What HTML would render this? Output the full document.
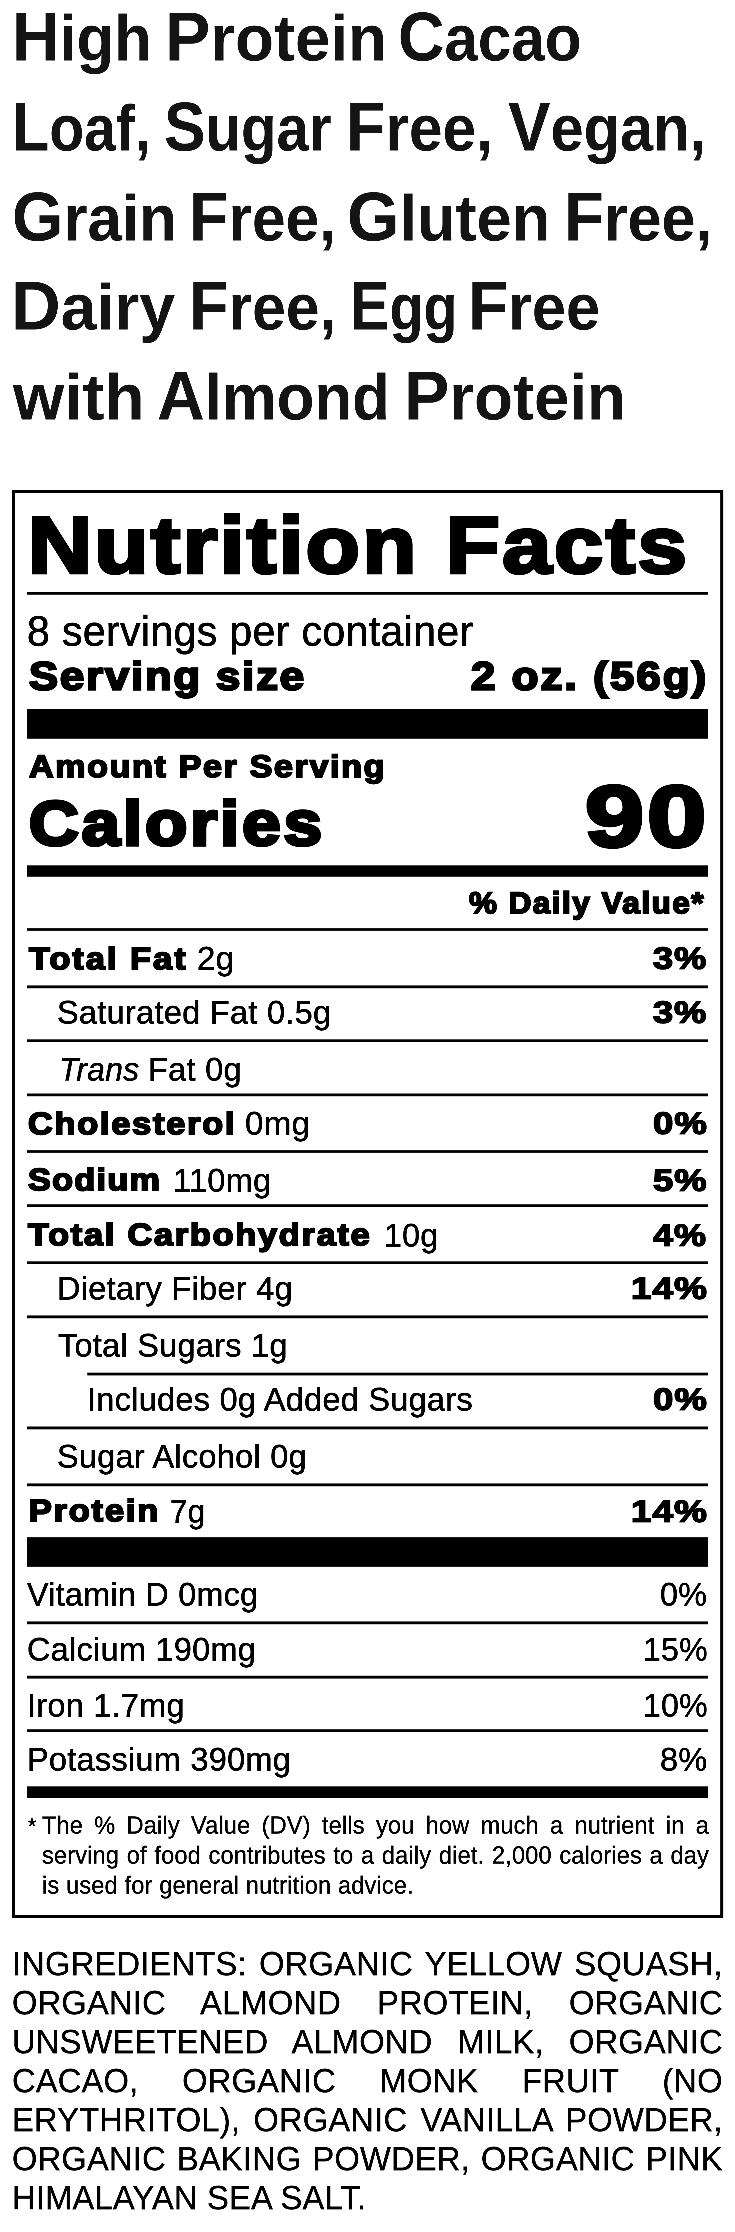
<!DOCTYPE html>
<html lang="en"><head><meta charset="utf-8"><title>Nutrition Facts</title>
<style>
html,body{margin:0;padding:0;background:#fff;}
body{width:735px;height:2232px;position:relative;overflow:hidden;font-family:"Liberation Sans",sans-serif;color:#000;}
.t{position:absolute;white-space:nowrap;line-height:1;transform-origin:0 0;will-change:transform;}
.j{position:absolute;white-space:nowrap;text-align:justify;text-align-last:justify;transform-origin:0 0;will-change:transform;}
.j.last{text-align:left;text-align-last:left;}
.lc{font-size:93.5%;}
</style></head><body>
<svg width="735" height="2232" viewBox="0 0 735 2232" style="position:absolute;left:0;top:0" shape-rendering="geometricPrecision"><path fill="#000" fill-rule="evenodd" d="M12.0 490.0H723.1V1918.1H12.0Z M15.0 493.0V1915.1H720.1V493.0Z"/><rect x="27" y="592.0" width="681.00" height="2.80" fill="#000"/><rect x="27" y="709.0" width="681.00" height="29.80" fill="#000"/><rect x="27" y="865.3" width="681.00" height="11.50" fill="#000"/><rect x="27" y="928.1" width="681.00" height="2.80" fill="#000"/><rect x="27" y="985.4" width="681.00" height="2.80" fill="#000"/><rect x="27" y="1039.3" width="681.00" height="2.70" fill="#000"/><rect x="27" y="1093.5" width="681.00" height="2.70" fill="#000"/><rect x="27" y="1150.1" width="681.00" height="2.80" fill="#000"/><rect x="27" y="1204.2" width="681.00" height="2.80" fill="#000"/><rect x="27" y="1261.3" width="681.00" height="2.70" fill="#000"/><rect x="27" y="1315.4" width="681.00" height="2.80" fill="#000"/><rect x="87.2" y="1372.7" width="620.80" height="2.70" fill="#000"/><rect x="27" y="1426.5" width="681.00" height="2.80" fill="#000"/><rect x="27" y="1483.4" width="681.00" height="2.80" fill="#000"/><rect x="27" y="1537.1" width="681.00" height="29.80" fill="#000"/><rect x="27" y="1621.4" width="681.00" height="2.80" fill="#000"/><rect x="27" y="1675.8" width="681.00" height="2.80" fill="#000"/><rect x="27" y="1729.2" width="681.00" height="2.80" fill="#000"/><rect x="27" y="1786.3" width="681.00" height="11.70" fill="#000"/></svg>
<div class="t" id="h00" style="left:12.30px;top:2.12px;font-size:277.20px;font-weight:700;color:#141414;transform:scale(0.23717,0.25)">H<span class="lc">igh</span></div>
<div class="t" id="h01" style="left:165.13px;top:2.12px;font-size:277.20px;font-weight:700;color:#141414;transform:scale(0.24518,0.25)">P<span class="lc">rotein</span></div>
<div class="t" id="h02" style="left:398.22px;top:2.12px;font-size:277.20px;font-weight:700;color:#141414;transform:scale(0.23195,0.25)">C<span class="lc">acao</span></div>
<div class="t" id="h10" style="left:11.88px;top:92.12px;font-size:277.20px;font-weight:700;color:#141414;transform:scale(0.22020,0.25)">L<span class="lc">oaf,</span></div>
<div class="t" id="h11" style="left:163.64px;top:92.12px;font-size:277.20px;font-weight:700;color:#141414;transform:scale(0.22435,0.25)">S<span class="lc">ugar</span></div>
<div class="t" id="h12" style="left:345.96px;top:92.12px;font-size:277.20px;font-weight:700;color:#141414;transform:scale(0.23300,0.25)">F<span class="lc">ree,</span></div>
<div class="t" id="h13" style="left:507.54px;top:92.12px;font-size:277.20px;font-weight:700;color:#141414;transform:scale(0.22980,0.25)">V<span class="lc">egan,</span></div>
<div class="t" id="h20" style="left:11.96px;top:181.52px;font-size:277.20px;font-weight:700;color:#141414;transform:scale(0.23855,0.25)">G<span class="lc">rain</span></div>
<div class="t" id="h21" style="left:188.60px;top:181.52px;font-size:277.20px;font-weight:700;color:#141414;transform:scale(0.23317,0.25)">F<span class="lc">ree,</span></div>
<div class="t" id="h22" style="left:347.32px;top:181.52px;font-size:277.20px;font-weight:700;color:#141414;transform:scale(0.24345,0.25)">G<span class="lc">luten</span></div>
<div class="t" id="h23" style="left:563.92px;top:181.52px;font-size:277.20px;font-weight:700;color:#141414;transform:scale(0.23535,0.25)">F<span class="lc">ree,</span></div>
<div class="t" id="h30" style="left:11.29px;top:271.32px;font-size:277.20px;font-weight:700;color:#141414;transform:scale(0.24805,0.25)">D<span class="lc">airy</span></div>
<div class="t" id="h31" style="left:189.37px;top:271.32px;font-size:277.20px;font-weight:700;color:#141414;transform:scale(0.23367,0.25)">F<span class="lc">ree,</span></div>
<div class="t" id="h32" style="left:350.00px;top:271.32px;font-size:277.20px;font-weight:700;color:#141414;transform:scale(0.21420,0.25)">E<span class="lc">gg</span></div>
<div class="t" id="h33" style="left:468.31px;top:271.32px;font-size:277.20px;font-weight:700;color:#141414;transform:scale(0.23653,0.25)">F<span class="lc">ree</span></div>
<div class="t" id="h40" style="left:13.25px;top:361.32px;font-size:277.20px;font-weight:700;color:#141414;transform:scale(0.25388,0.25)"><span class="lc">with</span></div>
<div class="t" id="h41" style="left:156.55px;top:361.32px;font-size:277.20px;font-weight:700;color:#141414;transform:scale(0.23810,0.25)">A<span class="lc">lmond</span></div>
<div class="t" id="h42" style="left:404.34px;top:361.32px;font-size:277.20px;font-weight:700;color:#141414;transform:scale(0.24518,0.25)">P<span class="lc">rotein</span></div>
<div class="t" id="nf" style="left:28.01px;top:505.06px;font-size:320.00px;font-weight:700;-webkit-text-stroke:12.80px #000;letter-spacing:8.96px;transform:scale(0.27642,0.25)">Nutrition Facts</div>
<div class="t" id="spc" style="left:26.55px;top:610.14px;font-size:168.00px;font-weight:400;-webkit-text-stroke:2.40px #000;letter-spacing:1.68px;transform:scale(0.24358,0.25)">8 servings per container</div>
<div class="t" id="ss" style="left:29.28px;top:656.06px;font-size:158.00px;font-weight:700;-webkit-text-stroke:8.80px #000;letter-spacing:7.07px;transform:scale(0.27500,0.25)">Serving size</div>
<div class="t" id="ssv" style="left:471.36px;top:656.06px;font-size:158.00px;font-weight:700;-webkit-text-stroke:8.80px #000;letter-spacing:8.25px;transform:scale(0.27500,0.25)">2 oz. (56g)</div>
<div class="t" id="aps" style="left:28.90px;top:750.89px;font-size:123.60px;font-weight:700;-webkit-text-stroke:6.80px #000;letter-spacing:6.14px;transform:scale(0.27500,0.25)">Amount Per Serving</div>
<div class="t" id="cal" style="left:29.18px;top:791.80px;font-size:250.40px;font-weight:700;-webkit-text-stroke:13.60px #000;letter-spacing:10.98px;transform:scale(0.27500,0.25)">Calories</div>
<div class="t" id="calv" style="left:585.02px;top:773.29px;font-size:346.80px;font-weight:700;-webkit-text-stroke:14.40px #000;letter-spacing:10.08px;transform:scale(0.30625,0.25)">90</div>
<div class="t" id="dv" style="left:468.80px;top:887.56px;font-size:120.40px;font-weight:700;-webkit-text-stroke:6.80px #000;letter-spacing:6.05px;transform:scale(0.26000,0.25)">% Daily Value*</div>
<div class="t" id="tfl" style="left:28.97px;top:942.90px;font-size:124.00px;font-weight:700;-webkit-text-stroke:6.80px #000;letter-spacing:7.72px;transform:scale(0.27500,0.25)">Total Fat</div>
<div class="t" id="tfv" style="left:197.33px;top:942.23px;font-size:130.00px;font-weight:400;-webkit-text-stroke:2.00px #000;letter-spacing:1.40px;transform:scale(0.25372,0.25)">2g</div>
<div class="t" id="tfp" style="left:653.13px;top:943.48px;font-size:122.00px;font-weight:700;-webkit-text-stroke:5.60px #000;letter-spacing:3.92px;transform:scale(0.29500,0.25)">3%</div>
<div class="t" id="sfv" style="left:56.96px;top:995.63px;font-size:130.00px;font-weight:400;-webkit-text-stroke:2.00px #000;letter-spacing:1.40px;transform:scale(0.24900,0.25)">Saturated Fat 0.5g</div>
<div class="t" id="sfp" style="left:653.13px;top:996.88px;font-size:122.00px;font-weight:700;-webkit-text-stroke:5.60px #000;letter-spacing:3.92px;transform:scale(0.29500,0.25)">3%</div>
<div class="t" id="trl" style="left:58.53px;top:1053.43px;font-size:130.00px;font-weight:400;font-style:italic;-webkit-text-stroke:2.00px #000;letter-spacing:1.40px;transform:scale(0.24397,0.25)">Trans</div>
<div class="t" id="trv" style="left:147.91px;top:1053.43px;font-size:130.00px;font-weight:400;-webkit-text-stroke:2.00px #000;letter-spacing:1.40px;transform:scale(0.24915,0.25)">Fat 0g</div>
<div class="t" id="chl" style="left:28.45px;top:1107.50px;font-size:124.00px;font-weight:700;-webkit-text-stroke:6.80px #000;letter-spacing:6.85px;transform:scale(0.27500,0.25)">Cholesterol</div>
<div class="t" id="chv" style="left:245.38px;top:1106.83px;font-size:130.00px;font-weight:400;-webkit-text-stroke:2.00px #000;letter-spacing:1.40px;transform:scale(0.25410,0.25)">0mg</div>
<div class="t" id="chp" style="left:652.53px;top:1108.08px;font-size:122.00px;font-weight:700;-webkit-text-stroke:5.60px #000;letter-spacing:3.92px;transform:scale(0.29833,0.25)">0%</div>
<div class="t" id="sol" style="left:28.21px;top:1164.40px;font-size:124.00px;font-weight:700;-webkit-text-stroke:6.80px #000;letter-spacing:4.94px;transform:scale(0.27500,0.25)">Sodium</div>
<div class="t" id="sov" style="left:173.36px;top:1163.73px;font-size:130.00px;font-weight:400;-webkit-text-stroke:2.00px #000;letter-spacing:1.40px;transform:scale(0.24932,0.25)">110mg</div>
<div class="t" id="sop" style="left:652.83px;top:1164.98px;font-size:122.00px;font-weight:700;-webkit-text-stroke:5.60px #000;letter-spacing:3.92px;transform:scale(0.29665,0.25)">5%</div>
<div class="t" id="tcl" style="left:28.34px;top:1219.30px;font-size:124.00px;font-weight:700;-webkit-text-stroke:6.80px #000;letter-spacing:6.76px;transform:scale(0.27500,0.25)">Total Carbohydrate</div>
<div class="t" id="tcv" style="left:384.19px;top:1218.63px;font-size:130.00px;font-weight:400;-webkit-text-stroke:2.00px #000;letter-spacing:1.40px;transform:scale(0.24630,0.25)">10g</div>
<div class="t" id="tcp" style="left:653.42px;top:1219.88px;font-size:122.00px;font-weight:700;-webkit-text-stroke:5.60px #000;letter-spacing:3.92px;transform:scale(0.29337,0.25)">4%</div>
<div class="t" id="dfv" style="left:56.51px;top:1271.83px;font-size:130.00px;font-weight:400;-webkit-text-stroke:2.00px #000;letter-spacing:1.40px;transform:scale(0.24915,0.25)">Dietary Fiber 4g</div>
<div class="t" id="dfp" style="left:631.38px;top:1273.08px;font-size:122.00px;font-weight:700;-webkit-text-stroke:5.60px #000;letter-spacing:3.92px;transform:scale(0.30080,0.25)">14%</div>
<div class="t" id="tsv" style="left:57.70px;top:1329.33px;font-size:130.00px;font-weight:400;-webkit-text-stroke:2.00px #000;letter-spacing:1.40px;transform:scale(0.24857,0.25)">Total Sugars 1g</div>
<div class="t" id="asv" style="left:86.66px;top:1383.23px;font-size:130.00px;font-weight:400;-webkit-text-stroke:2.00px #000;letter-spacing:1.40px;transform:scale(0.24880,0.25)">Includes 0g Added Sugars</div>
<div class="t" id="asp" style="left:652.53px;top:1384.48px;font-size:122.00px;font-weight:700;-webkit-text-stroke:5.60px #000;letter-spacing:3.92px;transform:scale(0.29833,0.25)">0%</div>
<div class="t" id="sav" style="left:57.16px;top:1440.43px;font-size:130.00px;font-weight:400;-webkit-text-stroke:2.00px #000;letter-spacing:1.40px;transform:scale(0.24860,0.25)">Sugar Alcohol 0g</div>
<div class="t" id="prl" style="left:28.62px;top:1495.30px;font-size:124.00px;font-weight:700;-webkit-text-stroke:6.80px #000;letter-spacing:7.05px;transform:scale(0.27500,0.25)">Protein</div>
<div class="t" id="prv" style="left:170.15px;top:1494.63px;font-size:130.00px;font-weight:400;-webkit-text-stroke:2.00px #000;letter-spacing:1.40px;transform:scale(0.24060,0.25)">7g</div>
<div class="t" id="prp" style="left:631.38px;top:1495.88px;font-size:122.00px;font-weight:700;-webkit-text-stroke:5.60px #000;letter-spacing:3.92px;transform:scale(0.30080,0.25)">14%</div>
<div class="t" id="vdv" style="left:27.25px;top:1577.83px;font-size:130.00px;font-weight:400;-webkit-text-stroke:2.00px #000;letter-spacing:1.40px;transform:scale(0.24748,0.25)">Vitamin D 0mcg</div>
<div class="t" id="vdp" style="left:660.21px;top:1577.83px;font-size:130.00px;font-weight:400;-webkit-text-stroke:2.00px #000;letter-spacing:1.40px;transform:scale(0.24780,0.25)">0%</div>
<div class="t" id="cav" style="left:26.91px;top:1632.53px;font-size:130.00px;font-weight:400;-webkit-text-stroke:2.00px #000;letter-spacing:1.40px;transform:scale(0.24863,0.25)">Calcium 190mg</div>
<div class="t" id="cap" style="left:642.60px;top:1632.53px;font-size:130.00px;font-weight:400;-webkit-text-stroke:2.00px #000;letter-spacing:1.40px;transform:scale(0.24520,0.25)">15%</div>
<div class="t" id="irv" style="left:26.87px;top:1689.13px;font-size:130.00px;font-weight:400;-webkit-text-stroke:2.00px #000;letter-spacing:1.40px;transform:scale(0.24838,0.25)">Iron 1.7mg</div>
<div class="t" id="irp" style="left:642.60px;top:1689.13px;font-size:130.00px;font-weight:400;-webkit-text-stroke:2.00px #000;letter-spacing:1.40px;transform:scale(0.24520,0.25)">10%</div>
<div class="t" id="pov" style="left:26.51px;top:1743.33px;font-size:130.00px;font-weight:400;-webkit-text-stroke:2.00px #000;letter-spacing:1.40px;transform:scale(0.24880,0.25)">Potassium 390mg</div>
<div class="t" id="pop" style="left:659.95px;top:1743.33px;font-size:130.00px;font-weight:400;-webkit-text-stroke:2.00px #000;letter-spacing:1.40px;transform:scale(0.24918,0.25)">8%</div>
<div class="t" id="fnstar" style="left:27.6px;top:1814.54px;font-size:87.84px;-webkit-text-stroke:1.40px #000;transform:scale(0.23992,0.25)">*</div>
<div class="j" id="fn0" style="left:42.0px;top:1813.17px;width:2780.04px;font-size:97.60px;line-height:1;-webkit-text-stroke:1.40px #000;letter-spacing:0.98px;transform:scale(0.23992,0.25)">The % Daily Value (DV) tells you how much a nutrient in a</div>
<div class="j" id="fn1" style="left:42.0px;top:1842.77px;width:2780.04px;font-size:97.60px;line-height:1;-webkit-text-stroke:1.40px #000;letter-spacing:0.98px;transform:scale(0.23992,0.25)">serving of food contributes to a daily diet. 2,000 calories a day</div>
<div class="j last" id="fn2" style="left:42.0px;top:1872.57px;width:2780.04px;font-size:97.60px;line-height:1;-webkit-text-stroke:1.40px #000;letter-spacing:0.98px;transform:scale(0.23992,0.25)">is used for general nutrition advice.</div>
<div class="j" id="in0" style="left:11.8px;top:1946.65px;width:2912.22px;font-size:133.60px;line-height:1;-webkit-text-stroke:1.40px #000;letter-spacing:0.98px;transform:scale(0.24407,0.25)">INGREDIENTS: ORGANIC YELLOW SQUASH,</div>
<div class="j" id="in1" style="left:11.8px;top:1985.65px;width:2912.22px;font-size:133.60px;line-height:1;-webkit-text-stroke:1.40px #000;letter-spacing:0.98px;transform:scale(0.24407,0.25)">ORGANIC ALMOND PROTEIN, ORGANIC</div>
<div class="j" id="in2" style="left:11.8px;top:2024.65px;width:2912.22px;font-size:133.60px;line-height:1;-webkit-text-stroke:1.40px #000;letter-spacing:0.98px;transform:scale(0.24407,0.25)">UNSWEETENED ALMOND MILK, ORGANIC</div>
<div class="j" id="in3" style="left:11.8px;top:2063.65px;width:2912.22px;font-size:133.60px;line-height:1;-webkit-text-stroke:1.40px #000;letter-spacing:0.98px;transform:scale(0.24407,0.25)">CACAO, ORGANIC MONK FRUIT (NO</div>
<div class="j" id="in4" style="left:11.8px;top:2102.65px;width:2912.22px;font-size:133.60px;line-height:1;-webkit-text-stroke:1.40px #000;letter-spacing:0.98px;transform:scale(0.24407,0.25)">ERYTHRITOL), ORGANIC VANILLA POWDER,</div>
<div class="j" id="in5" style="left:11.8px;top:2141.65px;width:2912.22px;font-size:133.60px;line-height:1;-webkit-text-stroke:1.40px #000;letter-spacing:0.98px;transform:scale(0.24407,0.25)">ORGANIC BAKING POWDER, ORGANIC PINK</div>
<div class="j last" id="in6" style="left:11.8px;top:2180.65px;width:2912.22px;font-size:133.60px;line-height:1;-webkit-text-stroke:1.40px #000;letter-spacing:0.98px;transform:scale(0.24407,0.25)">HIMALAYAN SEA SALT.</div>
</body></html>
